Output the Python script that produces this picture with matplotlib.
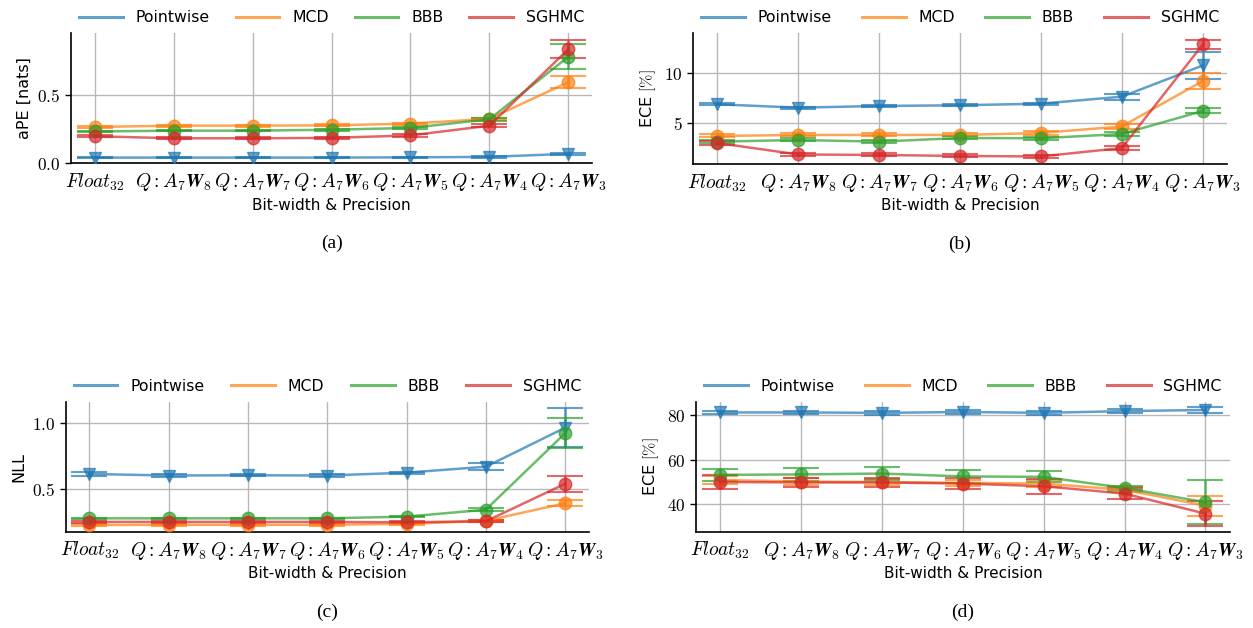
import numpy as np
import matplotlib.pyplot as plt
from matplotlib.lines import Line2D
from matplotlib.ticker import FuncFormatter

plt.rcParams['mathtext.fontset'] = 'cm'
plt.rcParams['font.family'] = ['DejaVu Sans']

precisions = [r'$Float_{32}$',
              r'$Q: A_7\mathbfit{W}_{\mathbf{8}}$',
              r'$Q: A_7\mathbfit{W}_{\mathbf{7}}$',
              r'$Q: A_7\mathbfit{W}_{\mathbf{6}}$',
              r'$Q: A_7\mathbfit{W}_{\mathbf{5}}$',
              r'$Q: A_7\mathbfit{W}_{\mathbf{4}}$',
              r'$Q: A_7\mathbfit{W}_{\mathbf{3}}$']
methods = ['Pointwise', 'MCD', 'BBB', 'SGHMC']
colors = ['tab:blue', 'tab:orange', 'tab:green', 'tab:red']
markers = ['v', 'o', 'o', 'o']

# (a) aPE [nats], rows = Pointwise, MCD, BBB, SGHMC
ape_mean = [[0.040, 0.040, 0.040, 0.040, 0.042, 0.045, 0.068],
            [0.265, 0.275, 0.275, 0.277, 0.290, 0.325, 0.595],
            [0.232, 0.238, 0.238, 0.245, 0.258, 0.322, 0.782],
            [0.197, 0.182, 0.182, 0.185, 0.203, 0.275, 0.837]]
ape_err = [[0.004, 0.004, 0.004, 0.004, 0.004, 0.005, 0.008],
           [0.008, 0.008, 0.008, 0.008, 0.008, 0.008, 0.045],
           [0.006, 0.006, 0.006, 0.006, 0.008, 0.012, 0.093],
           [0.006, 0.006, 0.006, 0.006, 0.008, 0.012, 0.067]]

# (b) ECE [%] in-distribution
ece_mean = [[6.87, 6.53, 6.70, 6.77, 6.93, 7.63, 10.75],
            [3.70, 3.80, 3.80, 3.80, 4.00, 4.65, 9.20],
            [3.13, 3.30, 3.13, 3.50, 3.47, 3.90, 6.20],
            [3.00, 1.85, 1.80, 1.70, 1.65, 2.50, 12.85]]
ece_err = [[0.10, 0.10, 0.10, 0.10, 0.10, 0.30, 1.38],
           [0.15, 0.15, 0.15, 0.15, 0.20, 0.25, 0.80],
           [0.15, 0.15, 0.15, 0.15, 0.15, 0.20, 0.25],
           [0.20, 0.15, 0.15, 0.15, 0.15, 0.20, 0.45]]

# (c) NLL
nll_mean = [[0.615, 0.603, 0.605, 0.603, 0.625, 0.670, 0.967],
            [0.226, 0.228, 0.228, 0.228, 0.235, 0.258, 0.392],
            [0.277, 0.277, 0.277, 0.277, 0.290, 0.343, 0.925],
            [0.250, 0.250, 0.250, 0.250, 0.247, 0.255, 0.540]]
nll_err = [[0.012, 0.008, 0.008, 0.010, 0.008, 0.025, 0.147],
           [0.006, 0.006, 0.006, 0.006, 0.006, 0.008, 0.023],
           [0.006, 0.006, 0.006, 0.006, 0.006, 0.010, 0.115],
           [0.006, 0.006, 0.006, 0.006, 0.006, 0.008, 0.060]]

# (d) ECE [%] out-of-distribution
ood_mean = [[81.2, 81.2, 81.0, 81.4, 81.0, 81.8, 82.3],
            [50.9, 50.2, 50.0, 49.6, 49.3, 46.5, 39.4],
            [53.2, 53.4, 53.8, 52.5, 52.3, 47.3, 40.9],
            [50.0, 49.8, 49.8, 49.3, 48.1, 44.8, 35.8]]
ood_err = [[0.8, 0.8, 0.8, 0.8, 0.8, 0.8, 1.2],
           [1.8, 1.5, 1.5, 1.5, 1.5, 1.2, 4.5],
           [2.8, 2.8, 2.8, 3.0, 2.5, 1.0, 9.9],
           [3.0, 2.2, 2.2, 2.5, 3.3, 2.5, 5.5]]

panels = [(ape_mean, ape_err, 'aPE [nats]', (0.0, 0.956), [0.0, 0.5], '%.1f', '(a)'),
          (ece_mean, ece_err, r'ECE $[\%]$', (0.9, 14.0), [5, 10], '%d', '(b)'),
          (nll_mean, nll_err, 'NLL', (0.175, 1.165), [0.5, 1.0], '%.1f', '(c)'),
          (ood_mean, ood_err, r'ECE $[\%]$', (27.7, 86.0), [40, 60, 80], '%d', '(d)')]

rects = [[0.0567, 0.7404, 0.4158, 0.207],
         [0.5531, 0.7389, 0.4262, 0.2086],
         [0.0524, 0.1533, 0.4176, 0.207],
         [0.5555, 0.1533, 0.4259, 0.207]]

fig = plt.figure(figsize=(12.53, 6.28), dpi=100)
x = np.arange(len(precisions))

for rect, (mean, err, ylab, ylim, yt, fmt, cap) in zip(rects, panels):
    ax = fig.add_axes(rect)
    for i in range(len(methods)):
        ax.errorbar(x, mean[i], yerr=err[i], color=colors[i], marker=markers[i],
                    markersize=9, lw=1.8, elinewidth=1.8, capsize=13, capthick=1.5,
                    alpha=0.7, zorder=3)
    ax.set_xlim(-0.3, 6.3)
    ax.set_ylim(*ylim)
    ax.set_yticks(yt)
    ax.yaxis.set_major_formatter(FuncFormatter(lambda v, p, f=fmt: '$' + (f % v) + '$'))
    ax.set_xticks(x)
    ax.set_xticklabels(precisions, fontsize=14)
    ax.tick_params(axis='y', labelsize=12.5, length=4, width=1)
    ax.tick_params(axis='x', length=0, pad=6)
    ax.grid(True, color='#b8b8b8', lw=1.0, zorder=0)
    ax.set_axisbelow(True)
    for s in ['top', 'right']:
        ax.spines[s].set_visible(False)
    for s in ['left', 'bottom']:
        ax.spines[s].set_linewidth(1.2)
    ax.set_ylabel(ylab, fontsize=11.5)
    ax.set_xlabel('Bit-width & Precision', fontsize=11, labelpad=3)
    handles = [Line2D([], [], color=c, lw=2.2, alpha=0.7) for c in colors]
    ax.legend(handles, methods, loc='lower left', bbox_to_anchor=(0, 1.0, 1, 0.2),
              mode='expand', ncol=4, frameon=False, borderaxespad=0.1,
              fontsize=11.3, handlelength=2.8)
    bb = ax.get_position()
    fig.text(bb.x0 + bb.width / 2, bb.y0 - 0.128, cap, ha='center', va='center',
             fontsize=14, family='Liberation Serif')

fig.savefig('out.png', dpi=100)
